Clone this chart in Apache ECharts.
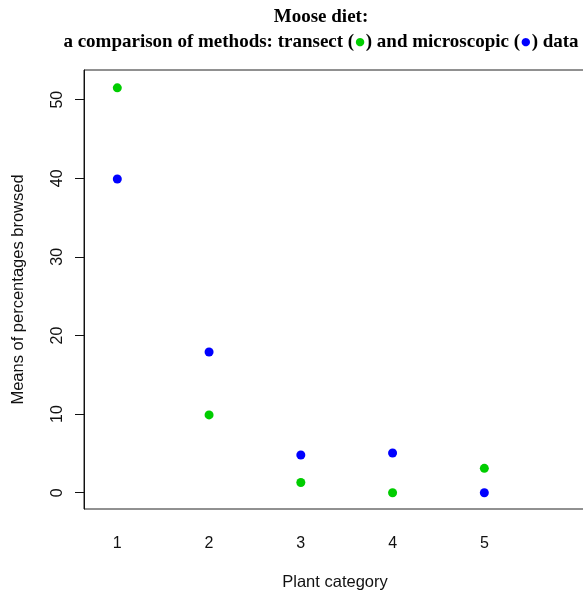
<!DOCTYPE html>
<html>
<head>
<meta charset="utf-8">
<script src="https://cdn.jsdelivr.net/npm/echarts@6/dist/echarts.min.js"></script>
<style>
  html, body { margin: 0; padding: 0; background: #fff; }
  #chart { width: 583px; height: 591px; }
</style>
</head>
<body>
<div id="chart"></div>
<script>
// Plant categories and mean percentages browsed per method
const categories = [1, 2, 3, 4, 5];
const transectMeans = [51.5, 9.9, 1.3, 0.0, 3.1];
const microscopicMeans = [39.9, 17.9, 4.8, 5.05, 0.0];
const yTicks = [0, 10, 20, 30, 40, 50];

const GREEN = '#00cd00';
const BLUE = '#0000ff';

const chart = echarts.init(document.getElementById('chart'), null, { renderer: 'canvas' });

const toPairs = (xs, ys) => xs.map((x, i) => [x, ys[i]]);

chart.setOption({
  animation: false,
  backgroundColor: '#ffffff',
  grid: {
    left: 84, top: 70, right: -3, bottom: 82,
    show: true, borderColor: '#222', borderWidth: 1, backgroundColor: 'transparent',
    containLabel: false,
    outerBoundsMode: 'none'
  },
  xAxis: {
    type: 'value',
    min: 0.637, max: 6.108,
    splitLine: { show: false },
    axisLine: { show: false },
    axisTick: { show: false },
    axisLabel: {
      customValues: categories,
      color: '#111', fontFamily: 'Liberation Sans', fontSize: 16, margin: 27
    },
    name: 'Plant category',
    nameLocation: 'middle',
    nameGap: 65,
    nameTextStyle: { color: '#111', fontFamily: 'Liberation Sans', fontSize: 16.5 }
  },
  yAxis: {
    type: 'value',
    min: -2.07, max: 53.77,
    splitLine: { show: false },
    axisLine: { show: true, lineStyle: { color: '#111', width: 1 } },
    axisTick: { show: true, customValues: yTicks, length: 9, lineStyle: { color: '#111' } },
    axisLabel: {
      customValues: yTicks,
      rotate: 90,
      color: '#111', fontFamily: 'Liberation Sans', fontSize: 16, margin: 18
    },
    name: 'Means of percentages browsed',
    nameLocation: 'middle',
    nameGap: 57,
    nameRotate: 90,
    nameTextStyle: { color: '#111', fontFamily: 'Liberation Sans', fontSize: 16.5 }
  },
  graphic: [{
    type: 'text',
    x: 321, y: 5,
    style: {
      text: '{b|Moose diet:}\n{b|a comparison of methods: transect (}{g|●}{b|) and microscopic (}{bl|●}{b|) data}',
      align: 'center',
      verticalAlign: 'top',
      lineHeight: 25,
      rich: {
        b: { fontFamily: 'Liberation Serif', fontWeight: 'bold', fontSize: 19, fill: '#000', lineHeight: 25 },
        g: { fontFamily: 'DejaVu Sans', fontSize: 11, fill: GREEN, lineHeight: 25, padding: [0, 1, 0, 1] },
        bl: { fontFamily: 'DejaVu Sans', fontSize: 11, fill: BLUE, lineHeight: 25, padding: [0, 1, 0, 1] }
      }
    }
  }],
  series: [
    {
      name: 'transect',
      type: 'scatter',
      data: toPairs(categories, transectMeans),
      symbol: 'circle',
      symbolSize: 9,
      itemStyle: { color: GREEN, opacity: 1 },
      clip: false
    },
    {
      name: 'microscopic',
      type: 'scatter',
      data: toPairs(categories, microscopicMeans),
      symbol: 'circle',
      symbolSize: 9,
      itemStyle: { color: BLUE, opacity: 1 },
      clip: false
    }
  ]
});
</script>
</body>
</html>
